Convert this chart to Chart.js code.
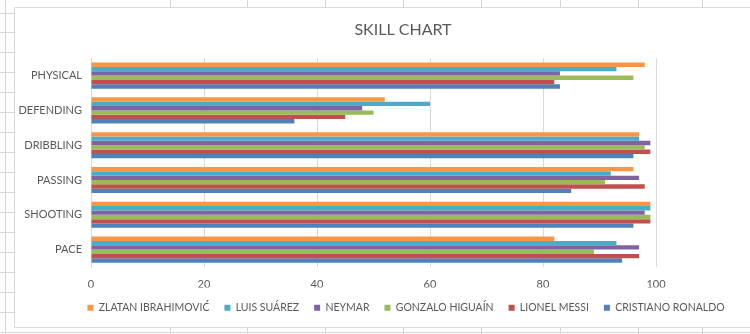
<!DOCTYPE html>
<html>
<head>
<meta charset="utf-8">
<script src="https://cdn.jsdelivr.net/npm/chart.js@4.4.1/dist/chart.umd.min.js"></script>
<style>
  html, body { margin: 0; padding: 0; background: #fff; overflow: hidden; }
  #sheet { position: absolute; left: 0; top: 0; }
  #frame {
    position: absolute; left: 14px; top: 7px; width: 760px; height: 319px;
    background: #fff; border: 1px solid #d9d9d9;
  }
  #wrap { position: absolute; left: 0; top: 0; width: 750px; height: 334px; }
</style>
</head>
<body>
<canvas id="sheet" width="750" height="334"></canvas>
<div id="frame"></div>
<div id="wrap"><canvas id="skillChart"></canvas></div>
<script>
// Skill ratings per attribute
const skills = ["PHYSICAL", "DEFENDING", "DRIBBLING", "PASSING", "SHOOTING", "PACE"];
const players = ["ZLATAN IBRAHIMOVIĆ", "LUIS SUÁREZ", "NEYMAR", "GONZALO HIGUAÍN", "LIONEL MESSI", "CRISTIANO RONALDO"];
const zlatan = [98, 52, 97, 96, 99, 82];
const suarez = [93, 60, 97, 92, 99, 93];
const neymar = [83, 48, 99, 97, 98, 97];
const higuain = [96, 50, 98, 91, 99, 89];
const messi = [82, 45, 99, 98, 99, 97];
const ronaldo = [83, 36, 96, 85, 96, 94];
const xTicks = [0, 20, 40, 60, 80, 100];

const colors = ["#F79646", "#4BACC6", "#8064A2", "#9BBB59", "#C0504D", "#4F81BD"];
const values = [zlatan, suarez, neymar, higuain, messi, ronaldo];

// spreadsheet cell lines around the chart frame
const sc = document.getElementById("sheet").getContext("2d");
sc.strokeStyle = "#d4d4d4";
sc.lineWidth = 1;
sc.beginPath();
for (let k = 0; k < 17; k++) {
  const y = Math.round(12.5 + 19.97 * k) + 0.5;
  sc.moveTo(0, y); sc.lineTo(14, y);
}
sc.moveTo(5.5, 0); sc.lineTo(5.5, 334);
sc.moveTo(0, 332.5); sc.lineTo(750, 332.5);
[170, 247, 325, 403, 481, 560, 638, 702].forEach((x) => {
  sc.moveTo(x + 0.5, 0); sc.lineTo(x + 0.5, 7);
  sc.moveTo(x + 0.5, 327); sc.lineTo(x + 0.5, 334);
});
sc.stroke();

Chart.defaults.font.family = "Lato, 'Liberation Sans', sans-serif";
Chart.defaults.color = "#595959";

// keep title and legend centred on the whole frame, not only the plot
const frameCenter = {
  id: "frameCenter",
  beforeDraw(chart) {
    const t = chart.titleBlock;
    t.left = 14;
    t.right = 792;
    t.width = 778;
    const l = chart.legend;
    l.left = 14;
    l.right = 798;
  },
};

new Chart(document.getElementById("skillChart"), {
  type: "bar",
  data: {
    labels: skills,
    datasets: players.map((name, i) => ({
      label: name,
      data: values[i],
      backgroundColor: colors[i],
      borderWidth: 0,
      barPercentage: 1.0,
      categoryPercentage: 0.75,
    })),
  },
  options: {
    indexAxis: "y",
    responsive: true,
    maintainAspectRatio: false,
    animation: false,
    layout: { padding: { left: 14, right: 0, top: 0, bottom: 11 } },
    plugins: {
      title: {
        display: true,
        text: "SKILL CHART",
        font: { size: 16, weight: "normal" },
        padding: { top: 20, bottom: 19 },
      },
      legend: {
        position: "bottom",
        align: "center",
        labels: {
          boxWidth: 6,
          boxHeight: 6,
          padding: 15,
          font: { size: 10.5 },
        },
      },
      tooltip: { enabled: false },
    },
    scales: {
      x: {
        min: 0,
        max: 100,
        afterBuildTicks: (scale) => {
          scale.ticks = xTicks.map((v) => ({ value: v }));
        },
        afterFit: (scale) => {
          scale.height = 20.5;
        },
        grid: { color: "#d9d9d9", drawTicks: false },
        border: { display: false },
        ticks: { padding: 10.5, font: { size: 11 } },
      },
      y: {
        afterFit: (scale) => {
          scale.width = 77;
        },
        grid: { display: false, drawTicks: false },
        border: { display: true, color: "#d9d9d9" },
        ticks: { padding: 9, font: { size: 11 } },
      },
      // empty space to the right of the plot
      side: {
        type: "category",
        labels: skills,
        position: "right",
        afterFit: (scale) => {
          scale.width = 94;
        },
        grid: { display: false, drawTicks: false },
        border: { display: false },
        ticks: { display: false },
      },
    },
  },
  plugins: [frameCenter],
});
</script>
</body>
</html>
